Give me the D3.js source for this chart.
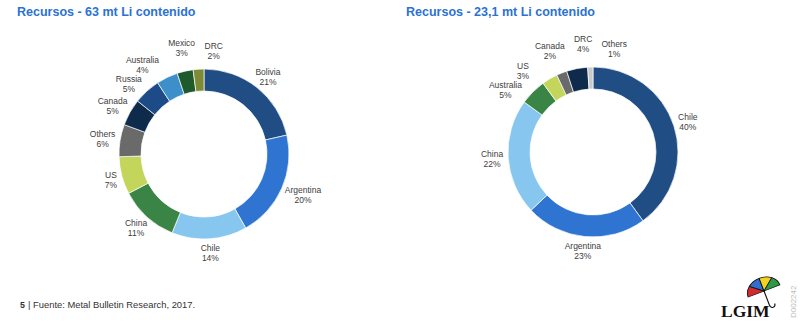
<!DOCTYPE html>
<html><head><meta charset="utf-8">
<script src="https://cdn.jsdelivr.net/npm/d3@7"></script>
<style>
html,body{margin:0;padding:0;background:#fff;}
svg{display:block;font-family:"Liberation Sans",Arial,sans-serif;}
</style></head>
<body>
<svg id="c" width="800" height="322"></svg>
<script>
// ---- data ----
const leftTitle = "Recursos - 63 mt Li contenido";
const leftCategories = ["Bolivia","Argentina","Chile","China","US","Others","Canada","Russia","Australia","Mexico","DRC"];
const leftValues = [21,20,14,11,7,6,5,5,4,3,2];
const rightTitle = "Recursos - 23,1 mt Li contenido";
const rightCategories = ["Chile","Argentina","China","Australia","US","Canada","DRC","Others"];
const rightValues = [40,23,22,5,3,2,4,1];
const sourceNote = "| Fuente: Metal Bulletin Research, 2017.";
const pageNumber = "5";
const docCode = "D002242";

// ---- styles ----
const leftColors = ["#1f4d84","#2f74d0","#86c6ef","#3a8546","#c4d55b","#6a6a6a","#0f2b4b","#1d4b88","#3d8fca","#1f5a2d","#7d8b36"];
const rightColors = ["#1f4d84","#2f74d0","#86c6ef","#3a8546","#c4d55b","#6a6a6a","#0f2b4b","#c9c9c9"];

const svg = d3.select("#c");

function donut(cx, cy, cats, vals, colors, title, titleX) {
  svg.append("text").attr("x", titleX).attr("y", 16)
    .attr("font-size", 12.5).attr("font-weight", "bold").attr("fill", "#2b72d3")
    .text(title);
  const outerR = 85, innerR = 63;
  const data = cats.map((c, i) => ({name: c, value: vals[i], color: colors[i]}));
  const pie = d3.pie().sort(null).value(d => d.value);
  const arcs = pie(data);
  const arc = d3.arc().innerRadius(innerR).outerRadius(outerR);
  const g = svg.append("g").attr("transform", `translate(${cx},${cy})`);
  g.selectAll("path").data(arcs).join("path")
    .attr("d", arc).attr("fill", d => d.data.color)
    .attr("stroke", "#fff").attr("stroke-width", 0.7);

  // labels: box placed just outside the ring, along the slice's mid-angle
  const gap = 5;
  const labs = arcs.map(a => ({a: (a.startAngle + a.endAngle) / 2, extra: 0, d: a.data}));
  const lg = g.selectAll("g.lab").data(labs).join("g").attr("class", "lab");
  lg.append("text").attr("text-anchor", "middle").attr("y", -1.5)
    .attr("font-size", 8.5).attr("fill", "#404040").text(d => d.d.name);
  lg.append("text").attr("text-anchor", "middle").attr("y", 8.5)
    .attr("font-size", 8.5).attr("fill", "#404040").text(d => d.d.value + "%");
  lg.each(function(d) {
    d.w = d3.max(d3.select(this).selectAll("text").nodes(), n => n.getComputedTextLength());
    d.h = 18;
  });
  const pos = d => {
    const s = Math.sin(d.a), c = Math.cos(d.a);
    return [(outerR + gap + d.extra + d.w / 2) * s, -(outerR + gap + d.extra + d.h / 2) * c];
  };
  for (let it = 0; it < 4000; it++) {
    let moved = false;
    for (let i = 0; i < labs.length; i++) {
      for (let j = i + 1; j < labs.length; j++) {
        const A = labs[i], B = labs[j];
        const [ax, ay] = pos(A), [bx, by] = pos(B);
        const ox = (A.w + B.w) / 2 + 9 - Math.abs(ax - bx);
        const oy = (A.h + B.h) / 2 + 1 - Math.abs(ay - by);
        if (ox > 0 && oy > 0) {
          moved = true;
          A.a -= 0.002; B.a += 0.002;
          A.extra = Math.min(A.extra + 0.06, 10);
          B.extra = Math.min(B.extra + 0.06, 10);
        }
      }
    }
    if (!moved) break;
  }
  lg.attr("transform", d => { const [x, y] = pos(d); return `translate(${x},${y})`; });
}

donut(204, 154, leftCategories, leftValues, leftColors, leftTitle, 17);
donut(593, 152, rightCategories, rightValues, rightColors, rightTitle, 406);

// footer
svg.append("text").attr("x", 20).attr("y", 308).attr("font-size", 8.8)
  .attr("font-weight", "bold").attr("fill", "#333").text(pageNumber);
svg.append("text").attr("x", 28).attr("y", 308).attr("font-size", 9.4)
  .attr("fill", "#333").text(sourceNote);

// logo
const logo = svg.append("g");
logo.append("text").attr("x", 721).attr("y", 317).attr("font-family", "'Liberation Serif','DejaVu Serif',serif")
  .attr("font-weight", "bold").attr("font-size", 17.5).attr("fill", "#111").text("LGIM");
const ug = logo.append("g").attr("transform", "translate(764,291) rotate(-21)");
const canopy = ug.append("g").attr("transform", "scale(1,0.8)");
const panelColors = ["#d22b2b", "#2f6fd0", "#f2d320", "#2e9a46"];
const panelArc = d3.arc().innerRadius(0).outerRadius(17);
panelColors.forEach((c, i) => {
  const s = -Math.PI / 2 + i * Math.PI / 4;
  canopy.append("path").attr("d", panelArc({startAngle: s, endAngle: s + Math.PI / 4}))
    .attr("fill", c).attr("stroke", "#111").attr("stroke-width", 0.9);
});
ug.append("path").attr("d", "M0,0 L0,15 Q0,18.5 2.8,18.5 Q5.5,18.5 5.5,15.5")
  .attr("fill", "none").attr("stroke", "#111").attr("stroke-width", 1.1);
svg.append("text").attr("transform", "translate(796,318) rotate(-90)")
  .attr("font-size", 8).attr("fill", "#bbb").text(docCode);
</script>
</body></html>
